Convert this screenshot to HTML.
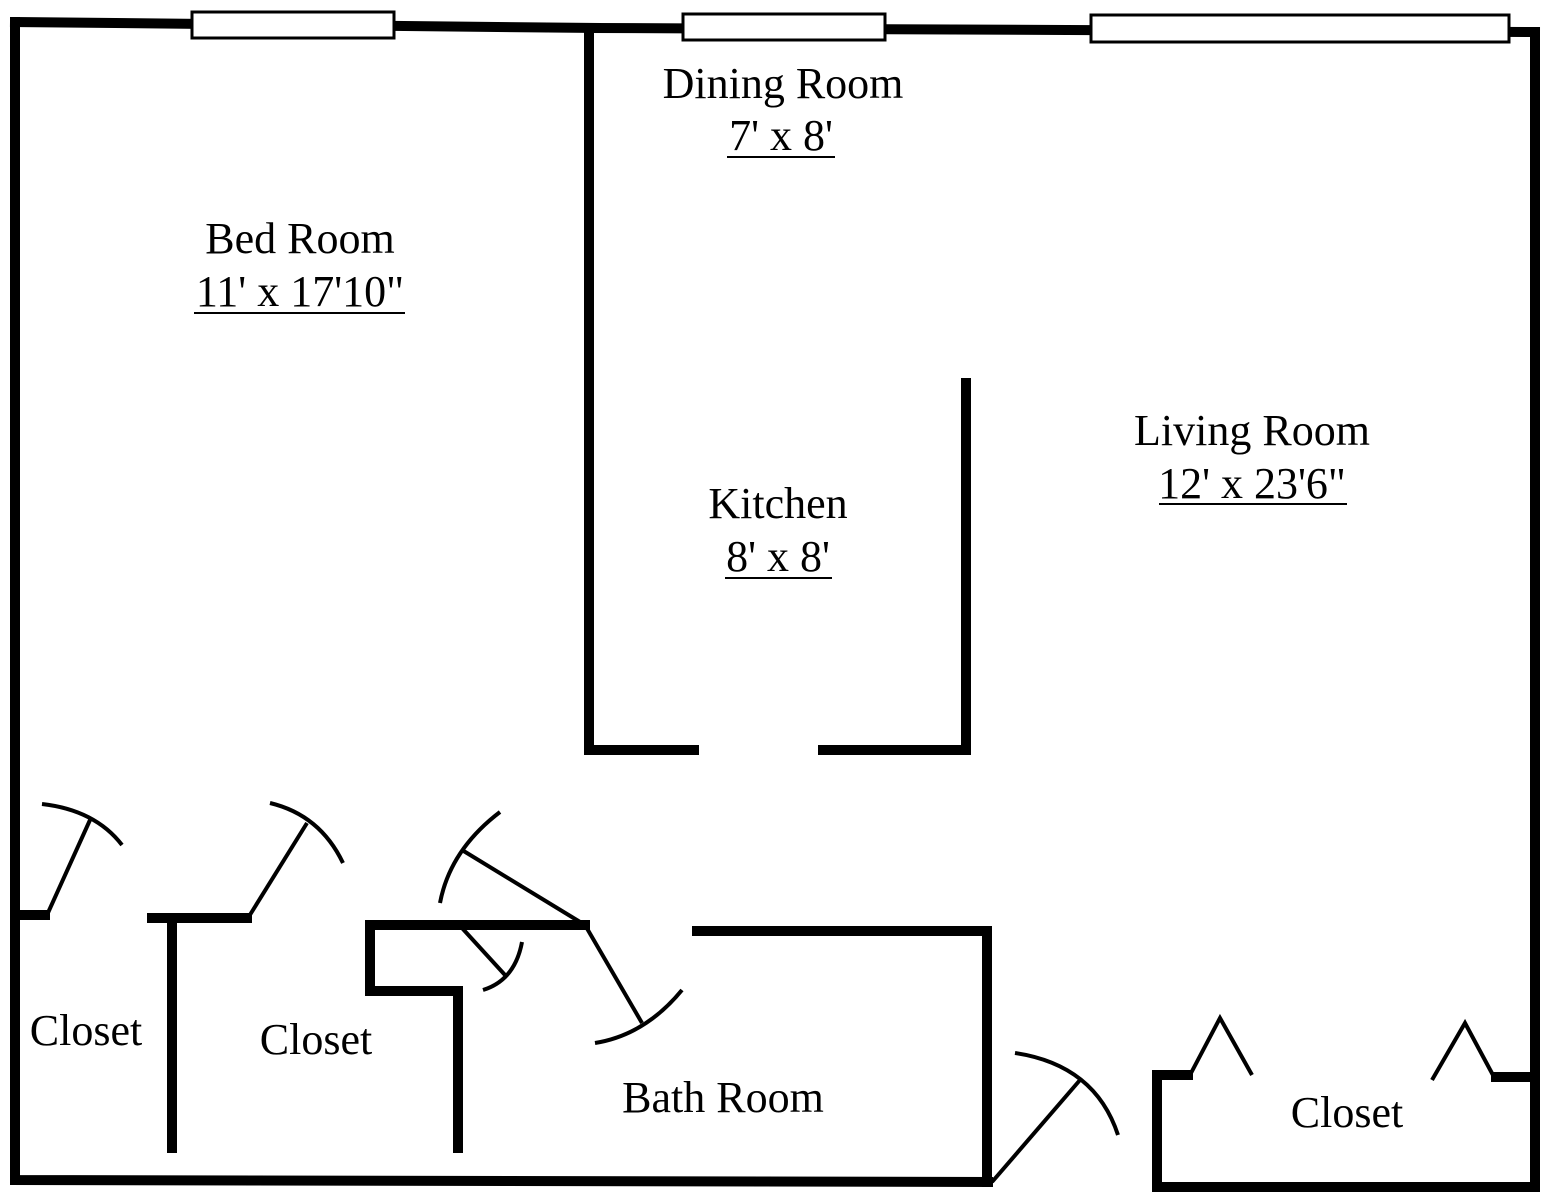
<!DOCTYPE html>
<html><head><meta charset="utf-8"><style>
html,body{margin:0;padding:0;background:#fff;}
svg{display:block;}
text{font-family:"Liberation Serif",serif;fill:#000;font-size:44px;}
</style></head><body>
<svg width="1564" height="1200" viewBox="0 0 1564 1200" xmlns="http://www.w3.org/2000/svg">
<g stroke="#000" stroke-width="10" fill="none" stroke-linecap="square">
<polyline points="15,22 15,1180 988,1182"/>
<line x1="15" y1="22" x2="595" y2="28"/>
<line x1="595" y1="28" x2="1535" y2="32"/>
<polyline points="1535,32 1535,1187 1157,1187 1157,1075 1188,1075"/>
<line x1="1496" y1="1077" x2="1535" y2="1077"/>
<polyline points="589,30 589,750 694,750"/>
<polyline points="823,750 966,750 966,383"/>
<polyline points="697,931 987,931 987,1182"/>
<polyline points="585,925 370,925 370,991 458,991 458,1148"/>
<line x1="15" y1="915" x2="45" y2="915"/>
<polyline points="152,918 247,918"/>
<line x1="172" y1="918" x2="172" y2="1148"/>
</g>
<g stroke="#000" stroke-width="3" fill="#fff">
<rect x="192" y="12" width="202" height="26"/>
<rect x="683" y="14" width="202" height="26"/>
<rect x="1091" y="15" width="418" height="27"/>
</g>
<g stroke="#000" stroke-width="4" fill="none">
<line x1="47" y1="915" x2="90" y2="820"/>
<path d="M42,804 Q95,810 122,845"/>
<line x1="248" y1="918" x2="307" y2="823"/>
<path d="M270,803 Q320,815 343,863"/>
<line x1="585" y1="925" x2="462" y2="850"/>
<path d="M500,812 Q450,850 440,903"/>
<line x1="585" y1="925" x2="642" y2="1023"/>
<path d="M682,990 Q645,1035 595,1043"/>
<line x1="462" y1="928" x2="505" y2="975"/>
<path d="M522,942 Q515,980 483,990"/>
<line x1="992" y1="1182" x2="1080" y2="1080"/>
<path d="M1015,1053 Q1095,1065 1118,1135"/>
<polyline points="1190,1075 1220,1018 1252,1075"/>
<polyline points="1432,1080 1465,1023 1494,1077"/>
</g>
<text x="783" y="98" text-anchor="middle">Dining Room</text>
<text x="781" y="150" text-anchor="middle">7' x 8'</text>
<line x1="727" y1="157" x2="835" y2="157" stroke="#000" stroke-width="2"/>
<text x="300" y="253" text-anchor="middle">Bed Room</text>
<text x="300" y="306" text-anchor="middle">11' x 17'10"</text>
<line x1="194" y1="313" x2="405" y2="313" stroke="#000" stroke-width="2"/>
<text x="1252" y="445" text-anchor="middle">Living Room</text>
<text x="1252" y="498" text-anchor="middle">12' x 23'6"</text>
<line x1="1159" y1="504" x2="1347" y2="504" stroke="#000" stroke-width="2"/>
<text x="778" y="518" text-anchor="middle">Kitchen</text>
<text x="778" y="571" text-anchor="middle">8' x 8'</text>
<line x1="725" y1="578" x2="832" y2="578" stroke="#000" stroke-width="2"/>
<text x="86" y="1045" text-anchor="middle">Closet</text>
<text x="316" y="1054" text-anchor="middle">Closet</text>
<text x="723" y="1112" text-anchor="middle">Bath Room</text>
<text x="1347" y="1127" text-anchor="middle">Closet</text>
</svg>
</body></html>
